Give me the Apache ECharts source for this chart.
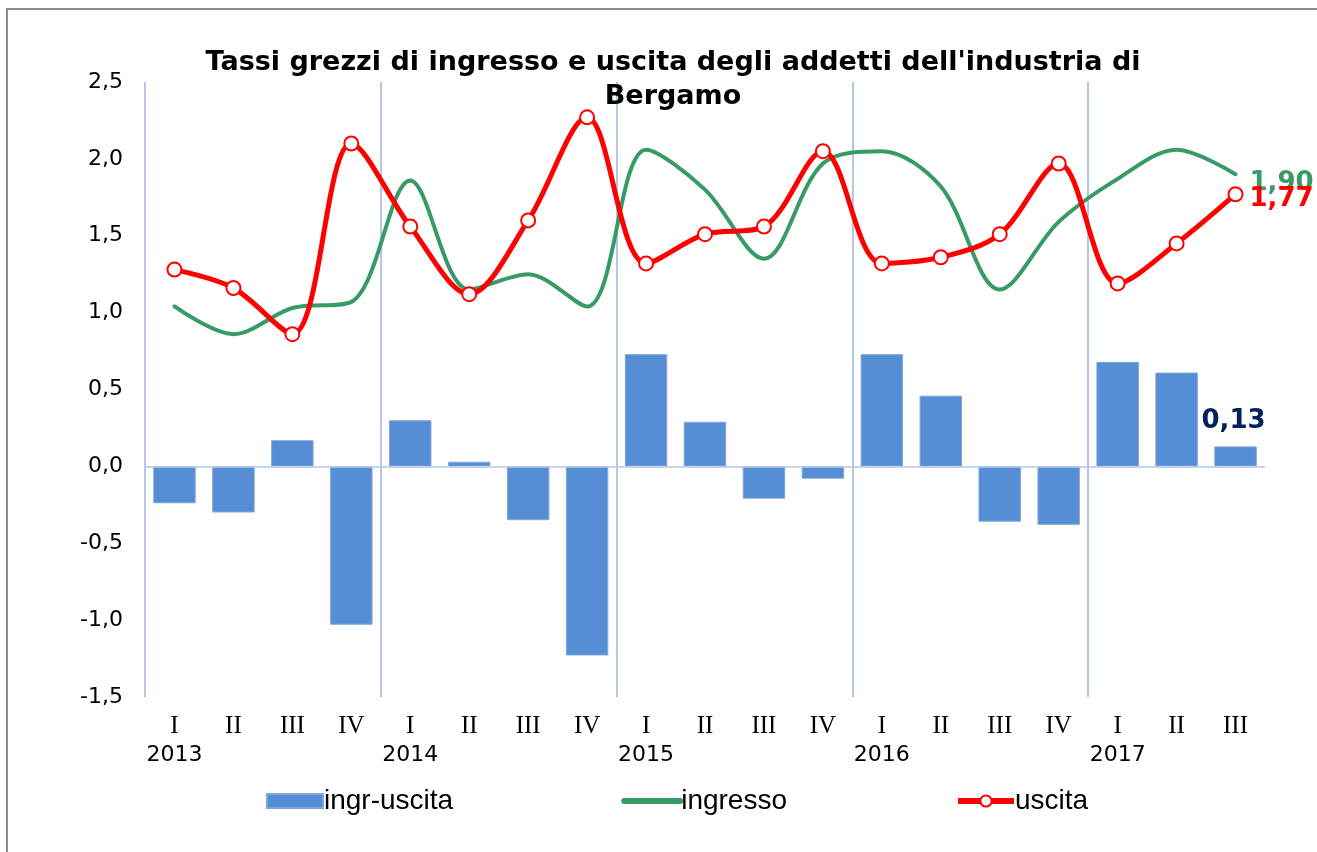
<!DOCTYPE html>
<html>
<head>
<meta charset="utf-8">
<script src="https://cdn.jsdelivr.net/npm/echarts@6/dist/echarts.min.js"></script>
<style>
  html, body { margin: 0; padding: 0; background: #fff; }
  #chart { width: 1317px; height: 852px; }
</style>
</head>
<body>
<div id="chart"></div>
<script>
// trimestri e anni
var quarters = ['I', 'II', 'III', 'IV', 'I', 'II', 'III', 'IV', 'I', 'II', 'III', 'IV', 'I', 'II', 'III', 'IV', 'I', 'II', 'III'];
var years = ['2013', '', '', '', '2014', '', '', '', '2015', '', '', '', '2016', '', '', '', '2017', '', ''];

// tassi
var ingrUscita = [-0.24, -0.30, 0.17, -1.03, 0.30, 0.03, -0.35, -1.23, 0.73, 0.29, -0.21, -0.08, 0.73, 0.46, -0.36, -0.38, 0.68, 0.61, 0.13];
var ingresso = [1.04, 0.86, 1.03, 1.07, 1.86, 1.15, 1.25, 1.04, 2.06, 1.80, 1.35, 1.97, 2.05, 1.82, 1.15, 1.59, 1.87, 2.06, 1.90];
var uscita = [1.28, 1.16, 0.86, 2.10, 1.56, 1.12, 1.60, 2.27, 1.32, 1.51, 1.56, 2.05, 1.32, 1.36, 1.51, 1.97, 1.19, 1.45, 1.77];

var cats = quarters.map(function (q, i) { return q + '|' + years[i]; });
var last = cats.length - 1;

function fmt(v) { return v.toFixed(2).replace('.', ','); }
function lastOnly(p) { return p.dataIndex === last ? fmt(p.value) : ''; }

var chart = echarts.init(document.getElementById('chart'));
chart.setOption({
    animation: false,
    textStyle: { fontFamily: 'DejaVu Sans' },
    title: {
        text: "Tassi grezzi di ingresso e uscita degli addetti dell'industria di\nBergamo",
        left: 668,
        top: 41,
        textAlign: 'center',
        textStyle: { fontSize: 27, fontWeight: 'bold', color: '#000', lineHeight: 34, fontFamily: 'DejaVu Sans' }
    },
    graphic: [{
        type: 'rect',
        shape: { x: 7, y: 9, width: 1330, height: 860 },
        style: { fill: 'none', stroke: '#8c8c8c', lineWidth: 2 },
        silent: true
    }, {
        // copre il separatore sul bordo destro (assente nell'originale)
        type: 'rect',
        shape: { x: 1264, y: 78, width: 4, height: 622 },
        style: { fill: '#fff' },
        silent: true,
        z: 0.5
    }],
    legend: {
        bottom: 32,
        left: 261,
        itemGap: 168,
        itemWidth: 56,
        itemHeight: 14,
        textStyle: { fontSize: 28, fontFamily: 'Liberation Sans', color: '#000', padding: [0, 0, 0, -4] },
        data: [
            { name: 'ingr-uscita', icon: 'rect' },
            { name: 'ingresso', itemStyle: { opacity: 0 }, lineStyle: { width: 6, cap: 'round' } },
            { name: 'uscita', lineStyle: { width: 6 } }
        ]
    },
    grid: { left: 145, right: 52, top: 82, bottom: 155, containLabel: false },
    xAxis: {
        type: 'category',
        data: cats,
        axisLine: { show: false },
        axisTick: { show: false },
        splitLine: {
            show: true,
            interval: function (i) { return i % 4 === 0; },
            lineStyle: { color: '#b4c7e7', width: 2 }
        },
        axisLabel: {
            interval: 0,
            margin: 14,
            formatter: function (v) {
                var parts = v.split('|');
                return '{q|' + parts[0] + '}\n{y|' + (parts[1] || ' ') + '}';
            },
            rich: {
                q: { fontFamily: 'Liberation Serif', fontSize: 25, color: '#000', lineHeight: 30 },
                y: { fontFamily: 'DejaVu Sans', fontSize: 22, color: '#000', lineHeight: 28 }
            }
        }
    },
    yAxis: {
        type: 'value',
        min: -1.5,
        max: 2.5,
        interval: 0.5,
        axisLine: { show: false },
        axisTick: { show: false },
        splitLine: { show: false },
        axisLabel: {
            fontSize: 22,
            color: '#000',
            margin: 22,
            formatter: function (v) { return v.toFixed(1).replace('.', ','); }
        }
    },
    series: [{
        name: 'ingr-uscita',
        type: 'bar',
        data: ingrUscita,
        barCategoryGap: '28%',
        itemStyle: { color: '#558ed5', borderColor: '#7fa6de', borderWidth: 1 },
        label: {
            show: true,
            position: 'top',
            distance: 12,
            offset: [-2, 0],
            formatter: lastOnly,
            fontSize: 26,
            fontWeight: 'bold',
            color: '#002060'
        },
        markLine: {
            silent: true,
            symbol: 'none',
            label: { show: false },
            lineStyle: { color: '#b4c7e7', width: 1.5, type: 'solid' },
            data: [{ yAxis: 0 }]
        },
        z: 1
    }, {
        name: 'ingresso',
        type: 'line',
        data: ingresso,
        smooth: 0.33,
        symbol: 'none',
        lineStyle: { color: '#389a66', width: 4, cap: 'round' },
        itemStyle: { color: '#389a66' },
        endLabel: {
            show: true,
            distance: 14,
            offset: [0, 9],
            formatter: function (p) { return fmt(p.value); },
            fontSize: 26,
            fontWeight: 'bold',
            color: '#389a66'
        },
        z: 3
    }, {
        name: 'uscita',
        type: 'line',
        data: uscita,
        smooth: 0.33,
        symbol: 'circle',
        symbolSize: 14,
        lineStyle: { color: '#ff0000', width: 5 },
        itemStyle: { color: '#ffffff', borderColor: '#ff0000', borderWidth: 2 },
        endLabel: {
            show: true,
            distance: 14,
            offset: [0, 5],
            formatter: function (p) { return fmt(p.value); },
            fontSize: 26,
            fontWeight: 'bold',
            color: '#ff0000'
        },
        z: 4
    }]
});
</script>
</body>
</html>
